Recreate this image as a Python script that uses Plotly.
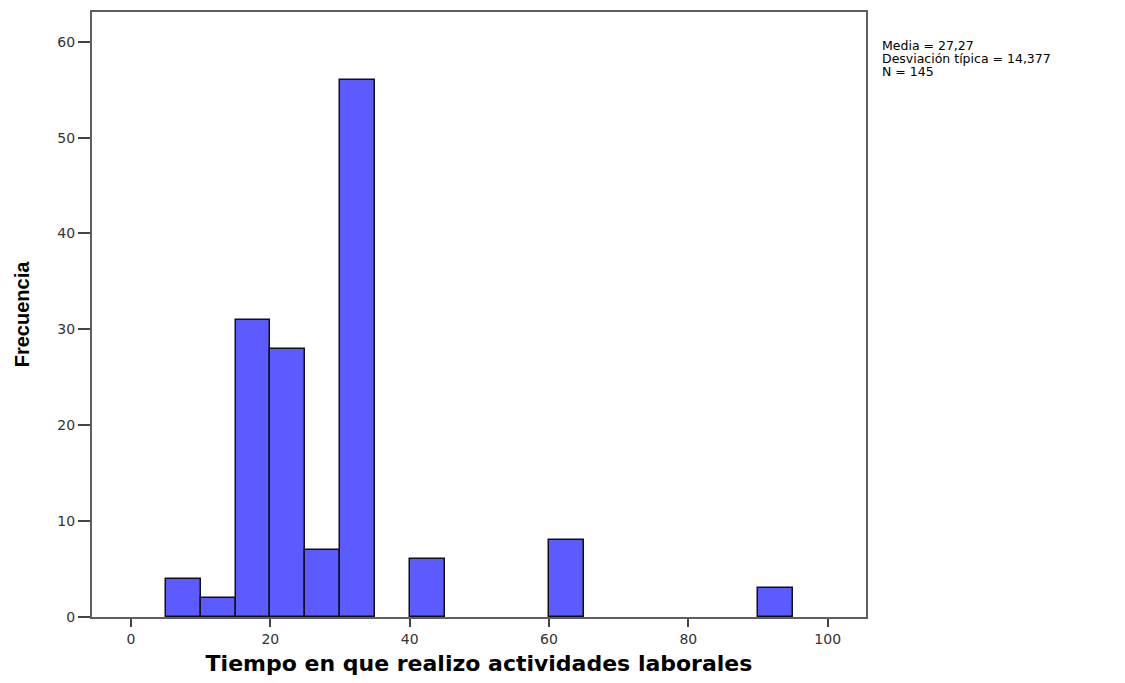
import plotly.graph_objects as go

bin_start = [5, 10, 15, 20, 25, 30, 40, 60, 90]
bin_width = 5
frequency = [4, 2, 31, 28, 7, 56, 6, 8, 3]
x_ticks = [0, 20, 40, 60, 80, 100]
y_ticks = [0, 10, 20, 30, 40, 50, 60]
stats_lines = ["Media = 27,27", "Desviación típica = 14,377", "N = 145"]

centers = [s + bin_width / 2 for s in bin_start]

# page body has an 8px margin, compensate
OFF = 8
W, H = 1125 - OFF, 683 - OFF
L, R, T, B = 92, 866, 10, 617  # plot frame in page pixels

fig = go.Figure()
fig.add_trace(go.Bar(
    x=centers, y=frequency, width=[bin_width] * len(centers),
    marker=dict(color="#5b5bff", line=dict(color="#111111", width=1.5)),
    showlegend=False,
))

axis_common = dict(
    showline=True, linecolor="#5f5f5f", linewidth=2, mirror=True,
    ticks="outside", tickwidth=2, tickcolor="#444444",
    showgrid=False, zeroline=False,
    tickfont=dict(family="DejaVu Sans", size=14, color="#333333"),
)

fig.update_xaxes(range=[-5.6, 105.5], tickvals=x_ticks, ticklen=8, **axis_common,
                 title=dict(text="<b>Tiempo en que realizo actividades laborales</b>",
                            font=dict(family="DejaVu Sans", size=22, color="#000000"),
                            standoff=10))
fig.update_yaxes(range=[0, 63.1], tickvals=y_ticks, ticklen=12, **axis_common,
                 title=dict(text="<b>Frecuencia</b>",
                            font=dict(family="Liberation Sans, Arial", size=20, color="#000000"),
                            standoff=22))

stat_y = [44, 57, 70]
for line, py in zip(stats_lines, stat_y):
    fig.add_annotation(x=(880 - L) / (R - L), y=(B - py) / (B - T),
                       xref="x domain", yref="y domain",
                       text=line, showarrow=False, xanchor="left", yanchor="middle",
                       font=dict(family="DejaVu Sans", size=12.5, color="#000000"))

fig.update_layout(
    width=W, height=H,
    margin=dict(l=L - OFF, r=(OFF + W) - R, t=T - OFF, b=(OFF + H) - B),
    plot_bgcolor="white", paper_bgcolor="white",
    bargap=0,
)
fig.write_html("out.html")
